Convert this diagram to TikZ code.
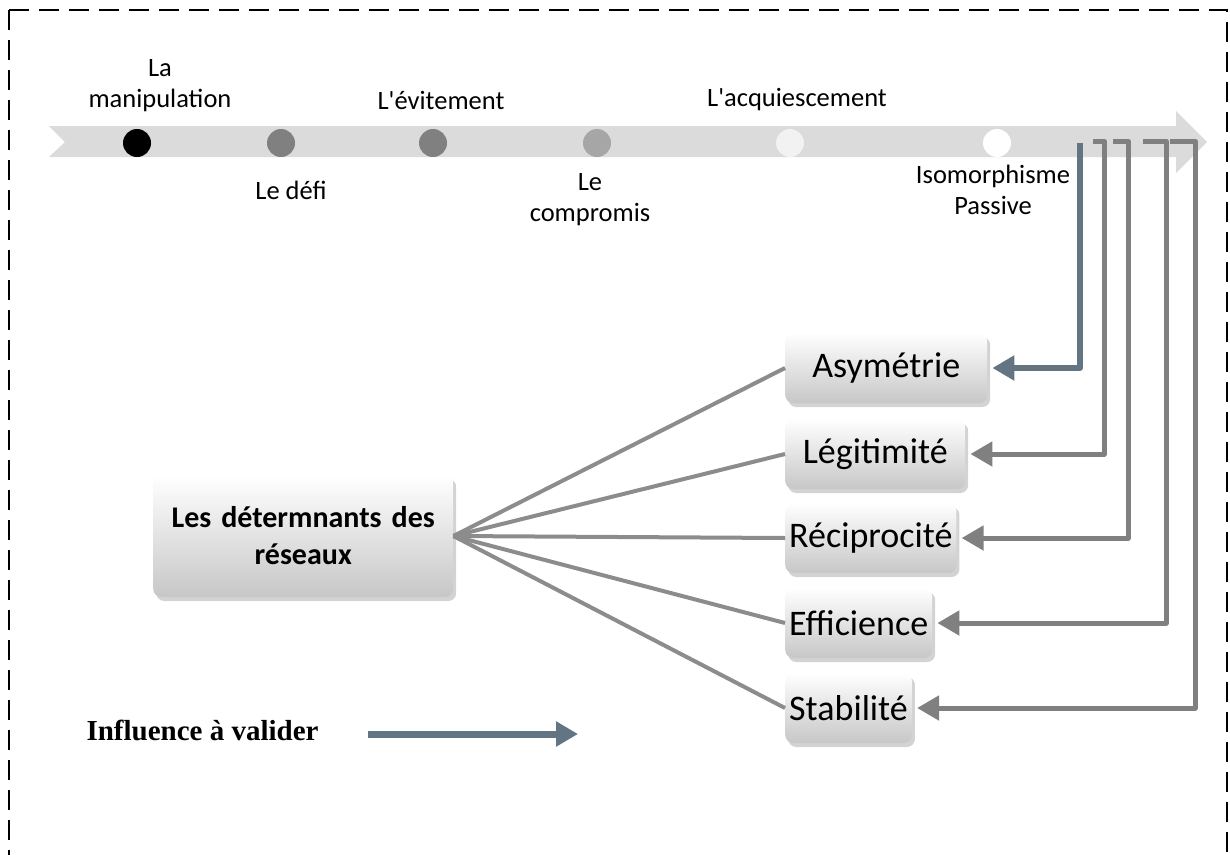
\documentclass[tikz,border=0pt]{standalone}
\usepackage{fontspec}
\setmainfont{Carlito}
\newfontfamily\legendfont{Liberation Serif}
\usetikzlibrary{arrows.meta,shadows}
\definecolor{slate}{HTML}{637582}

\begin{document}
\begin{tikzpicture}[x=1pt,y=-1pt,
  dot/.style={circle,minimum size=28pt,inner sep=0pt},
  tlabel/.style={align=center,font=\fontsize{26.5}{31}\selectfont},
  factor/.style={rounded corners=8pt,top color=white,bottom color=black!22,
    drop shadow={shadow xshift=3pt,shadow yshift=-4pt,opacity=0.35},
    minimum height=70pt,anchor=west,inner xsep=4pt,font=\fontsize{36}{40}\selectfont},
  fan/.style={line width=4pt,black!45},
  back/.style={line width=5pt,black!50,line join=round,-{Triangle[length=22pt,width=24pt]},shorten >=5pt}]

\useasboundingbox (0,0) rectangle (1230,854);

\draw[line width=2.5pt,dash pattern=on 20pt off 10pt] (9,10) -- (9,870);
\draw[line width=2.5pt,dash pattern=on 20pt off 10pt] (9,10) -- (1227,10) -- (1227,870);

% timeline
\fill[black!14] (49,126) -- (1176,126) -- (1176,111) -- (1207,142) -- (1176,173)
  -- (1176,157) -- (49,157) -- (65,142) -- cycle;

\node[dot,fill=black] (c1) at (137,143) {};
\node[dot,fill=black!50] (c2) at (281,143) {};
\node[dot,fill=black!50] (c3) at (433,143) {};
\node[dot,fill=black!35] (c4) at (597,143) {};
\node[dot,fill=black!5] (c5) at (790,143) {};
\node[dot,fill=white] (c6) at (997,143) {};

\node[tlabel] (l1) at (160,86) {La\\manipulation};
\node[tlabel] (l2) at (291,190) {Le défi};
\node[tlabel] (l3) at (441,100) {L\textquotesingle évitement};
\node[tlabel] (l4) at (590,200) {Le\\compromis};
\node[tlabel] (l5) at (797,100) {L\textquotesingle acquiescement};
\node[tlabel] (l6) at (993,190) {Isomorphisme\\Passive};

% determinants
\node[factor,minimum height=122pt,minimum width=300pt,text width=296pt,inner xsep=2pt,align=center,
  font=\bfseries\fontsize{30}{37}\selectfont] (det) at (153,536) {Les détermnants des\\réseaux};

\node[factor,minimum width=202pt] (asym) at (785,368) {Asymétrie};
\node[factor,minimum width=180pt] (legit) at (785,454) {Légitimité};
\node[factor,minimum width=170pt] (recip) at (785,538) {Réciprocité};
\node[factor,minimum width=147pt] (effic) at (785,623) {Efficience};
\node[factor,minimum width=124pt] (stab) at (785,708) {Stabilité};

\foreach \b in {asym,legit,recip,effic,stab}
  \draw[fan] (det.east) -- (\b.west);

% feedback to the timeline
\coordinate (f1) at (1080,143);
\coordinate (f2) at (1093,141); \coordinate (k2) at (1104,141);
\coordinate (f3) at (1113,141); \coordinate (k3) at (1128,141);
\coordinate (f4) at (1143,141); \coordinate (k4) at (1166,141);
\coordinate (f5) at (1170,141); \coordinate (k5) at (1195,141);

\draw[back,slate,line width=6pt] (f1) |- (asym.east);
\draw[back] (f2) -- (k2) |- (legit.east);
\draw[back] (f3) -- (k3) |- (recip.east);
\draw[back] (f4) -- (k4) |- (effic.east);
\draw[back] (f5) -- (k5) |- (stab.east);

% legend
\node[font=\legendfont\bfseries\fontsize{29}{34}\selectfont,anchor=base west] (leg) at (83,740) {Influence à valider};
\coordinate (a1) at (368,734);
\coordinate (a2) at (578,734);
\draw[line width=7pt,slate,-{Triangle[length=22pt,width=24pt]}] (a1) -- (a2);

\end{tikzpicture}
\end{document}
